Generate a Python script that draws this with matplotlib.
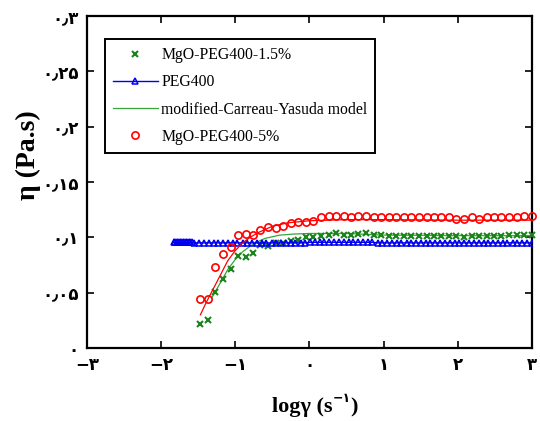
import matplotlib
matplotlib.use("Agg")
import matplotlib.pyplot as plt
from matplotlib.lines import Line2D

# shear-rate grid shared by the two MgO samples (log10 of 1/s)
x_mgo = [-1.47, -1.37, -1.27, -1.16, -1.06, -0.96, -0.86, -0.76, -0.66, -0.56,
         -0.45, -0.35, -0.25, -0.15, -0.05, 0.05, 0.16, 0.26, 0.36, 0.46,
         0.56, 0.66, 0.76, 0.87, 0.97, 1.07, 1.17, 1.27, 1.37, 1.48,
         1.58, 1.68, 1.78, 1.88, 1.98, 2.08, 2.19, 2.29, 2.39, 2.49,
         2.59, 2.69, 2.80, 2.90, 3.00]

eta_mgo_15 = [0.022, 0.025, 0.051, 0.062, 0.071, 0.083, 0.082, 0.086, 0.093, 0.092,
              0.095, 0.095, 0.097, 0.098, 0.100, 0.100, 0.101, 0.102, 0.104, 0.102,
              0.1025, 0.103, 0.104, 0.1025, 0.102, 0.101, 0.101, 0.101, 0.101, 0.101,
              0.101, 0.101, 0.101, 0.101, 0.101, 0.1005, 0.101, 0.101, 0.101, 0.101,
              0.101, 0.102, 0.102, 0.102, 0.102]

eta_mgo_5 = [0.044, 0.044, 0.073, 0.085, 0.091, 0.102, 0.103, 0.102, 0.107, 0.109,
             0.108, 0.110, 0.113, 0.114, 0.114, 0.115, 0.118, 0.119, 0.119, 0.119,
             0.118, 0.119, 0.119, 0.118, 0.118, 0.118, 0.118, 0.118, 0.118, 0.118,
             0.118, 0.118, 0.118, 0.118, 0.117, 0.117, 0.118, 0.117, 0.118, 0.118,
             0.118, 0.118, 0.118, 0.119, 0.119]

x_peg = [-1.83, -1.81, -1.79, -1.77, -1.75, -1.73, -1.71, -1.69, -1.67, -1.65,
         -1.63, -1.61, -1.59,
         -1.55, -1.49, -1.42, -1.36, -1.29, -1.23, -1.16, -1.10, -1.03, -0.97,
         -0.90, -0.84, -0.77, -0.71, -0.64, -0.58, -0.51, -0.45, -0.38, -0.32,
         -0.25, -0.19, -0.12, -0.06, 0.01, 0.07, 0.14, 0.20, 0.27, 0.33,
         0.40, 0.46, 0.53, 0.59, 0.66, 0.72, 0.79, 0.85, 0.92, 0.98,
         1.05, 1.11, 1.18, 1.24, 1.31, 1.37, 1.44, 1.50, 1.57, 1.63,
         1.70, 1.76, 1.83, 1.89, 1.96, 2.02, 2.09, 2.15, 2.22, 2.28,
         2.35, 2.41, 2.48, 2.54, 2.61, 2.67, 2.74, 2.80, 2.87, 2.93, 3.00]

eta_peg = [0.0955, 0.0955, 0.0955, 0.0955, 0.0955, 0.0955, 0.0955, 0.0955, 0.0955, 0.0955,
           0.0955, 0.0955, 0.0955,
           0.095, 0.095, 0.095, 0.095, 0.095, 0.095, 0.095, 0.095, 0.095, 0.095,
           0.095, 0.095, 0.095, 0.095, 0.095, 0.095, 0.095, 0.095, 0.095, 0.095,
           0.095, 0.095, 0.095, 0.095, 0.0955, 0.0955, 0.0955, 0.0955, 0.0955, 0.0955,
           0.0955, 0.0955, 0.0955, 0.0955, 0.0955, 0.0955, 0.0955, 0.0955, 0.095, 0.095,
           0.095, 0.095, 0.095, 0.095, 0.095, 0.095, 0.095, 0.095, 0.095, 0.095,
           0.095, 0.095, 0.095, 0.095, 0.095, 0.095, 0.095, 0.095, 0.095, 0.095,
           0.095, 0.095, 0.095, 0.095, 0.095, 0.095, 0.095, 0.095, 0.095, 0.095, 0.095]

# modified Carreau-Yasuda fits
x_fit_15 = [-1.31, -1.2, -1.1, -1.0, -0.9, -0.8, -0.7, -0.6, -0.5, -0.4, -0.2, 0.0, 0.5, 1.0, 2.0, 3.0]
eta_fit_15 = [0.046, 0.059, 0.071, 0.080, 0.087, 0.092, 0.096, 0.099, 0.1005, 0.102, 0.103, 0.1035,
              0.1035, 0.102, 0.1015, 0.1015]

x_fit_5 = [-1.47, -1.4, -1.3, -1.2, -1.1, -1.0, -0.9, -0.8, -0.7, -0.6, -0.5, -0.3, 0.0, 0.5, 1.0, 2.0, 3.0]
eta_fit_5 = [0.030, 0.040, 0.053, 0.066, 0.079, 0.088, 0.095, 0.100, 0.104, 0.107, 0.110, 0.113,
             0.115, 0.116, 0.116, 0.1155, 0.1155]

xticks = [-3, -2, -1, 0, 1, 2, 3]
xticklabels = ["−۳", "−۲", "−۱", "۰", "۱", "۲", "۳"]
yticks = [0, 0.05, 0.1, 0.15, 0.2, 0.25, 0.3]
yticklabels = ["۰", "۰٫۰۵", "۰٫۱", "۰٫۱۵", "۰٫۲", "۰٫۲۵", "۰٫۳"]

GREEN = "#1a841a"
serif = ["Liberation Serif", "DejaVu Serif"]
digits = ["DejaVu Sans"]

fig = plt.figure(figsize=(5.4, 4.21), dpi=100)
ax = fig.add_axes([0.161, 0.1734, 0.824, 0.7886])

ax.plot(x_mgo, eta_mgo_15, linestyle="none", marker="x", color=GREEN,
        markersize=4.8, markeredgewidth=1.5, clip_on=False, zorder=3)
ax.plot(x_peg, eta_peg, color="#0000ee", linewidth=1.0, marker="^",
        markersize=3.8, markerfacecolor="none", markeredgewidth=1.1, zorder=3)
ax.plot(x_fit_15, eta_fit_15, color="#3aa33a", linewidth=0.9, zorder=2)
ax.plot(x_mgo, eta_mgo_5, linestyle="none", marker="o", color="red",
        markersize=5.2, markerfacecolor="none", markeredgewidth=1.2, clip_on=False, zorder=4)
ax.plot(x_fit_5, eta_fit_5, color="red", linewidth=0.9, zorder=4)

ax.set_xlim(-3, 3)
ax.set_ylim(0, 0.3)
ax.set_xticks(xticks)
ax.set_xticklabels(xticklabels, family=digits, fontweight="bold", fontsize=12)
ax.set_yticks(yticks)
ax.set_yticklabels(yticklabels, family=digits, fontweight="bold", fontsize=12)
ax.tick_params(direction="in", length=5, width=1.2, top=True, right=True, pad=6)
for s in ax.spines.values():
    s.set_linewidth(1.6)

handles = [
    Line2D([], [], linestyle="none", marker="x", color=GREEN, markersize=4.8, markeredgewidth=1.5),
    Line2D([], [], color="#0000ee", linewidth=1.0, marker="^", markersize=3.8,
           markerfacecolor="none", markeredgewidth=1.1),
    Line2D([], [], color="#3aa33a", linewidth=0.9),
    Line2D([], [], linestyle="none", marker="o", color="red", markersize=5.2,
           markerfacecolor="none", markeredgewidth=1.2),
]
labels = ["MgO-PEG400-1.5%", "PEG400", "modified-Carreau-Yasuda model", "MgO-PEG400-5%"]
leg = ax.legend(handles, labels, loc="upper left", bbox_to_anchor=(0.04, 0.93),
                borderaxespad=0, fancybox=False, framealpha=1, edgecolor="black",
                prop={"family": serif, "size": 11.3}, handlelength=2.9, handletextpad=0.2,
                labelspacing=0.72, numpoints=1, borderpad=0.5)
leg.get_frame().set_linewidth(1.4)

fig.text(28 / 540, 1 - 155 / 421, "η (Pa.s)", rotation=90, ha="center", va="center",
         family=serif, fontweight="bold", fontsize=20)

t1 = fig.text(272 / 540, 9 / 421, "logγ (s", ha="left", va="baseline",
              family=serif, fontweight="bold", fontsize=16)
t2 = ax.annotate("−۱", xy=(1, 0.62), xycoords=t1, ha="left", va="bottom",
                 family=digits, fontweight="bold", fontsize=9, annotation_clip=False)
ax.annotate(")", xy=(1, 0), xycoords=(t2, t1), ha="left", va="bottom",
            family=serif, fontweight="bold", fontsize=16, annotation_clip=False)

fig.savefig("out.png", dpi=100)
